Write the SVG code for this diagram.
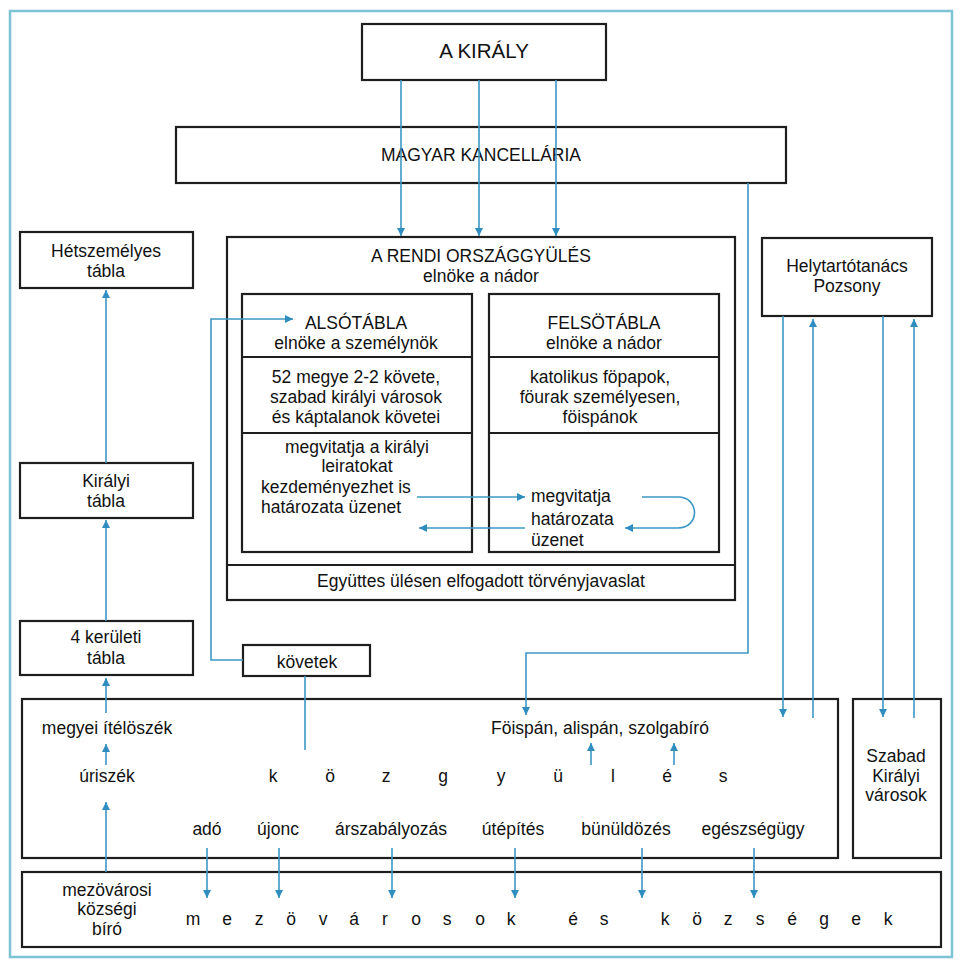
<svg xmlns="http://www.w3.org/2000/svg" width="960" height="968" viewBox="0 0 960 968">
<defs>
<marker id="ah" viewBox="0 0 10 10" refX="10" refY="5" markerWidth="8" markerHeight="8" markerUnits="userSpaceOnUse" orient="auto"><path d="M0,0 L10,5 L0,10 z" fill="#2f8dbf"/></marker>
</defs>
<style>
.box{fill:#fff;stroke:#1e1e1e;stroke-width:2.2}
.div{fill:none;stroke:#1e1e1e;stroke-width:2}
.t{font-family:"Liberation Sans",Arial,Helvetica,sans-serif;font-size:17.5px;fill:#111;text-anchor:middle}
.l{text-anchor:start}
.big{font-size:20.5px}
.c{fill:none;stroke:#3d97c4;stroke-width:1.6}
.a{marker-end:url(#ah)}
</style>
<rect x="0" y="0" width="960" height="968" fill="#fff"/>
<rect x="10" y="11" width="942" height="946" fill="none" stroke="#7cc3d6" stroke-width="2.5"/>

<g id="kiraly"><rect class="box" x="362" y="24" width="244" height="56"/><text class="t big" x="484" y="58">A KIRÁLY</text></g>
<g id="kancellaria"><rect class="box" x="176" y="127" width="610" height="56"/><text class="t" x="481" y="161">MAGYAR KANCELLÁRIA</text></g>

<g id="hetszemelyes"><rect class="box" x="20" y="232" width="173" height="56"/><text class="t" x="106" y="257">Hétszemélyes</text><text class="t" x="106" y="277">tábla</text></g>
<g id="kiralyi-tabla"><rect class="box" x="20" y="463" width="173" height="55"/><text class="t" x="106" y="487">Királyi</text><text class="t" x="106" y="507">tábla</text></g>
<g id="keruleti-tabla"><rect class="box" x="20" y="621" width="173" height="54"/><text class="t" x="106" y="643">4 kerületi</text><text class="t" x="106" y="664">tábla</text></g>

<g id="orszaggyules">
<rect class="box" x="227" y="237" width="508" height="363"/>
<line class="div" x1="227" y1="565" x2="735" y2="565"/>
<text class="t" x="481" y="262">A RENDI ORSZÁGGYÜLÉS</text>
<text class="t" x="481" y="282">elnöke a nádor</text>
<text class="t" x="481" y="587">Együttes ülésen elfogadott törvényjavaslat</text>
</g>
<g id="alsotabla">
<rect class="box" x="242" y="294" width="230" height="258"/>
<line class="div" x1="242" y1="357" x2="472" y2="357"/>
<line class="div" x1="242" y1="433" x2="472" y2="433"/>
<text class="t" x="356" y="329">ALSÓTÁBLA</text>
<text class="t" x="356" y="349">elnöke a személynök</text>
<text class="t" x="356" y="383">52 megye 2-2 követe,</text>
<text class="t" x="356" y="403">szabad királyi városok</text>
<text class="t" x="356" y="423">és káptalanok követei</text>
<text class="t" x="357" y="453">megvitatja a királyi</text>
<text class="t" x="357" y="472">leiratokat</text>
<text class="t l" x="261" y="493">kezdeményezhet is</text>
<text class="t l" x="261" y="513">határozata üzenet</text>
</g>
<g id="felsotabla">
<rect class="box" x="489" y="294" width="230" height="258"/>
<line class="div" x1="489" y1="357" x2="719" y2="357"/>
<line class="div" x1="489" y1="433" x2="719" y2="433"/>
<text class="t" x="604" y="329">FELSÖTÁBLA</text>
<text class="t" x="604" y="349">elnöke a nádor</text>
<text class="t" x="600" y="383">katolikus föpapok,</text>
<text class="t" x="600" y="403">föurak személyesen,</text>
<text class="t" x="600" y="423">föispánok</text>
<text class="t l" x="531" y="502">megvitatja</text>
<text class="t l" x="531" y="525">határozata</text>
<text class="t l" x="531" y="546">üzenet</text>
</g>

<g id="helytartotanacs"><rect class="box" x="762" y="238" width="170" height="78"/><text class="t" x="847" y="272">Helytartótanács</text><text class="t" x="847" y="292">Pozsony</text></g>
<g id="kovetek"><rect class="box" x="243" y="645" width="127" height="31"/><text class="t" x="307" y="668">követek</text></g>

<g id="megye">
<rect class="box" x="22" y="699" width="816" height="159"/>
<text class="t" x="107" y="734">megyei ítélöszék</text>
<text class="t" x="107" y="782">úriszék</text>
<text class="t l" x="491" y="734">Föispán, alispán, szolgabíró</text>
<text class="t" x="273 330 386 443 501 558 613 667 723" y="782">közgyülés</text>
<text class="t" x="207" y="835">adó</text>
<text class="t" x="278" y="835">újonc</text>
<text class="t" x="391" y="835">árszabályozás</text>
<text class="t" x="513" y="835">útépítés</text>
<text class="t" x="626" y="835">bünüldözés</text>
<text class="t" x="753" y="835">egészségügy</text>
</g>
<g id="szabad-kiralyi-varosok"><rect class="box" x="853" y="699" width="88" height="159"/><text class="t" x="896" y="762">Szabad</text><text class="t" x="896" y="782">Királyi</text><text class="t" x="896" y="801">városok</text></g>
<g id="mezovarosok">
<rect class="box" x="22" y="872" width="919" height="75"/>
<text class="t" x="107" y="896">mezövárosi</text>
<text class="t" x="107" y="915">községi</text>
<text class="t" x="107" y="935">bíró</text>
<text class="t" y="925"><tspan x="193 227 259 291 323 354 385 416 447 480 511">mezövárosok</tspan><tspan x="573 604">és</tspan><tspan x="665 697 728 760 792 824 856 888">községek</tspan></text>
</g>

<g id="connectors">
<path class="c a" d="M401,80 V236"/>
<path class="c a" d="M479,80 V236"/>
<path class="c a" d="M556,80 V236"/>
<path class="c a" d="M748,183 V653 H526 V715"/>
<path class="c a" d="M783,316 V717"/>
<path class="c a" d="M813,718 V319"/>
<path class="c a" d="M883,316 V717"/>
<path class="c a" d="M914,718 V319"/>
<path class="c a" d="M106,463 V290"/>
<path class="c a" d="M106,621 V520"/>
<path class="c a" d="M106,713 V678"/>
<path class="c a" d="M106,765 V744"/>
<path class="c a" d="M106,872 V802"/>
<path class="c a" d="M243,660 H211 V319 H293"/>
<path class="c" d="M305,676 V750"/>
<path class="c a" d="M417,497 H525"/>
<path class="c a" d="M525,528 H419"/>
<path class="c a" d="M642,497 H678 C700,497 700,528 678,528 H625"/>
<path class="c a" d="M591,765 V743"/>
<path class="c a" d="M674,765 V743"/>
<path class="c a" d="M207,848 V898"/>
<path class="c a" d="M279,848 V898"/>
<path class="c a" d="M392,848 V898"/>
<path class="c a" d="M515,848 V898"/>
<path class="c a" d="M642,848 V898"/>
<path class="c a" d="M754,848 V898"/>
</g>
</svg>
